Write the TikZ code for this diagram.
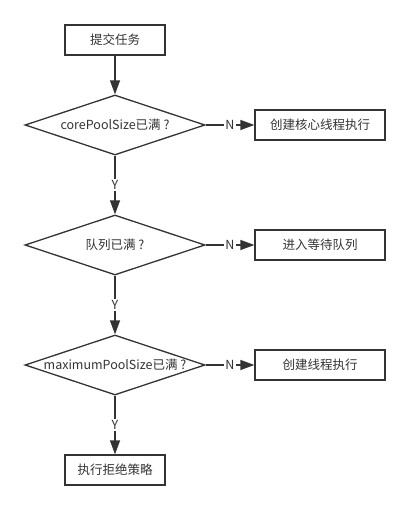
\documentclass[tikz,border=0pt]{standalone}
\usepackage{fontspec}
\setmainfont{Noto Sans CJK SC}
\usetikzlibrary{shapes.geometric,arrows.meta}
\definecolor{ink}{HTML}{333333}
\begin{document}
\begin{tikzpicture}[x=1pt,y=-1pt,
  every node/.style={font=\fontsize{12.5}{14}\selectfont, text=ink},
  stepbox/.style={draw=ink, line width=1.3pt, minimum width=100pt, minimum height=30pt, inner sep=0pt},
  widebox/.style={stepbox, minimum width=130pt},
  decide/.style={draw=ink, line width=1.3pt, diamond, aspect=3, minimum width=180pt, minimum height=60pt, inner sep=0pt},
  flow/.style={draw=ink, line width=1.3pt, -{Triangle[length=14pt,width=10pt]}},
  lbl/.style={fill=white, inner sep=1pt}
]
\useasboundingbox (0,0) rectangle (410,510);
\node[stepbox] (submit) at (115,40) {提交任务};
\node[decide] (d1) at (115,125) {corePoolSize已满 ?};
\node[widebox] (r1) at (320,125) {创建核心线程执行};
\node[decide] (d2) at (115,245) {队列已满 ?};
\node[widebox] (r2) at (320,245) {进入等待队列};
\node[decide] (d3) at (115,365) {maximumPoolSize已满 ?};
\node[widebox] (r3) at (320,365) {创建线程执行};
\node[stepbox] (reject) at (115,470) {执行拒绝策略};

\draw[flow] (submit) -- (d1);
\draw[flow] (d1.east) -- node[lbl, pos=0.5] {N} (r1.west);
\draw[flow] (d1.south) -- node[lbl, pos=0.5] {Y} (d2.north);
\draw[flow] (d2.east) -- node[lbl, pos=0.5] {N} (r2.west);
\draw[flow] (d2.south) -- node[lbl, pos=0.5] {Y} (d3.north);
\draw[flow] (d3.east) -- node[lbl, pos=0.5] {N} (r3.west);
\draw[flow] (d3.south) -- node[lbl, pos=0.5] {Y} (reject.north);
\end{tikzpicture}
\end{document}
